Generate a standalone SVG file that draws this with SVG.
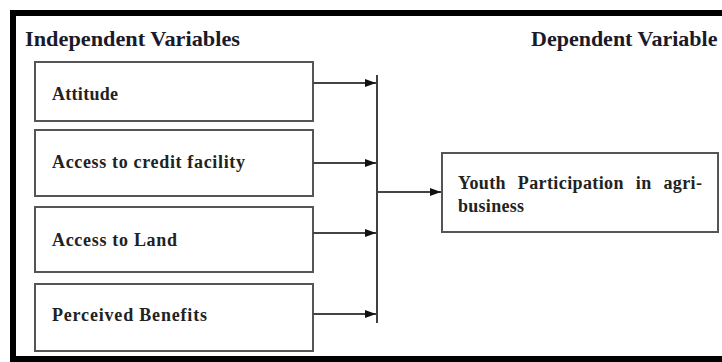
<svg xmlns="http://www.w3.org/2000/svg" width="722" height="362" viewBox="0 0 722 362">
<defs>
<style>
.frame{fill:none;stroke:#000;stroke-width:6}
.box{fill:#fff;stroke:#555;stroke-width:2}
.hdr{font-family:"Liberation Serif","Times New Roman",serif;font-weight:bold;font-size:22px;fill:#1a1a2a}
.lbl{font-family:"Liberation Serif","Times New Roman",serif;font-weight:bold;font-size:18px;fill:#222}
.conn{fill:none;stroke:#444;stroke-width:2}
.bar{fill:none;stroke:#111;stroke-width:1.6}
</style>
<marker id="arr" viewBox="0 0 11 8" refX="11" refY="4" markerWidth="11" markerHeight="8" markerUnits="userSpaceOnUse" orient="auto">
<path d="M0,0 L11,4 L0,8 Z" fill="#111"/>
</marker>
</defs>
<rect x="0" y="0" width="722" height="362" fill="#fff"/>
<rect class="frame" x="13" y="13" width="740" height="346"/>
<text class="hdr" x="25" y="46" textLength="215" lengthAdjust="spacingAndGlyphs">Independent Variables</text>
<text class="hdr" x="531" y="46">Dependent Variable</text>
<g id="attitude">
<rect class="box" x="35" y="62" width="278" height="59"/>
<text class="lbl" x="52" y="100" textLength="66">Attitude</text>
</g>
<g id="credit">
<rect class="box" x="35" y="130" width="278" height="66"/>
<text class="lbl" x="52" y="168" textLength="193">Access to credit facility</text>
</g>
<g id="land">
<rect class="box" x="35" y="207" width="278" height="65"/>
<text class="lbl" x="52" y="246" textLength="125">Access to Land</text>
</g>
<g id="benefits">
<rect class="box" x="35" y="284" width="278" height="67"/>
<text class="lbl" x="52" y="321" textLength="155">Perceived Benefits</text>
</g>
<g id="youth">
<rect class="box" x="442" y="153" width="276" height="79"/>
<text class="lbl" x="458" y="189" word-spacing="7" textLength="244">Youth Participation in agri-</text>
<text class="lbl" x="458" y="212" textLength="66">business</text>
</g>
<g id="connectors">
<line class="bar" x1="377" y1="75" x2="377" y2="323"/>
<line class="conn" x1="313" y1="83" x2="376" y2="83" marker-end="url(#arr)"/>
<line class="conn" x1="313" y1="163" x2="376" y2="163" marker-end="url(#arr)"/>
<line class="conn" x1="313" y1="233" x2="376" y2="233" marker-end="url(#arr)"/>
<line class="conn" x1="313" y1="314" x2="376" y2="314" marker-end="url(#arr)"/>
<line class="conn" x1="377" y1="192" x2="441" y2="192" marker-end="url(#arr)"/>
</g>
</svg>
